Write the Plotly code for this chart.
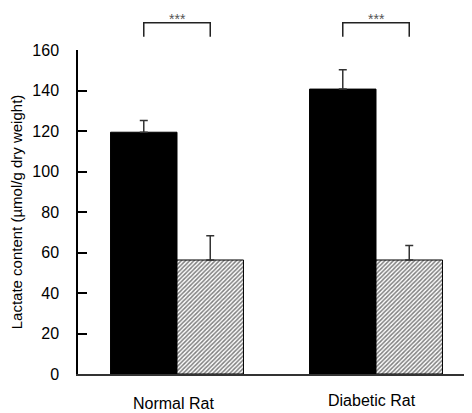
import plotly.graph_objects as go

categories = ["Normal Rat", "Diabetic Rat"]
control_vals = [119.4, 140.7]
control_err = [5.8, 9.6]
treated_vals = [56.3, 56.3]
treated_err = [12.0, 7.2]
stars = ["***", "***"]
yticks = [0, 20, 40, 60, 80, 100, 120, 140, 160]

xpos = list(range(len(categories)))
FONT = "Liberation Sans, Arial, Helvetica, sans-serif"

fig = go.Figure()
fig.add_trace(go.Bar(
    x=xpos, y=control_vals, name="control",
    marker=dict(color="black", line=dict(color="black", width=1)),
    error_y=dict(type="data", array=control_err, arrayminus=[0, 0], symmetric=False,
                 color="#333333", thickness=1.5, width=4),
))
fig.add_trace(go.Bar(
    x=xpos, y=treated_vals, name="treated",
    marker=dict(color="white", line=dict(color="black", width=1),
                pattern=dict(shape="/", fgcolor="black", bgcolor="white", size=3, solidity=0.5)),
    error_y=dict(type="data", array=treated_err, arrayminus=[0, 0], symmetric=False,
                 color="#333333", thickness=1.5, width=4),
))

bar_w = 0.334
shapes = []
annotations = []
for i, (c, s) in enumerate(zip(categories, stars)):
    x0 = xpos[i] - bar_w / 2
    x1 = xpos[i] + bar_w / 2
    shapes.append(dict(type="path", xref="x", yref="paper",
                       path=f"M {x0},1.041 L {x0},1.084 L {x1},1.084 L {x1},1.041",
                       line=dict(color="#222222", width=1.5)))
    annotations.append(dict(x=xpos[i], y=1.126, xref="x", yref="paper", text=s,
                            showarrow=False, font=dict(size=14, color="#555555", family=FONT),
                            xanchor="center", yanchor="top"))
    annotations.append(dict(x=xpos[i] - 0.02, y=0, xref="x", yref="paper", text=c,
                            showarrow=False, font=dict(size=16, color="black", family=FONT),
                            xanchor="center", yanchor="middle", yshift=-29 + (3 if i == 1 else 0)))

# page body has an 8px margin, so the figure is offset by 8px in the window
fig.update_layout(
    width=464, height=405,
    margin=dict(l=70, r=0, t=42, b=39),
    paper_bgcolor="white", plot_bgcolor="white",
    barmode="group", bargap=0.332, bargroupgap=0,
    showlegend=False,
    shapes=shapes, annotations=annotations,
    font=dict(family=FONT, color="black"),
)
fig.update_xaxes(range=[-0.4975, 1.4824], showticklabels=False, ticks="",
                 showline=True, linecolor="#333333", linewidth=1.5, showgrid=False,
                 zeroline=False, fixedrange=True)
fig.update_yaxes(range=[0, 160], tickvals=yticks, ticks="inside", ticklen=9, tickwidth=1.5,
                 tickcolor="black", showline=True, linecolor="black", linewidth=1.5,
                 showgrid=False, zeroline=False, tickfont=dict(size=16, family=FONT),
                 ticklabelstandoff=14,
                 title=dict(text="Lactate content (µmol/g dry weight)", font=dict(size=15, family=FONT),
                            standoff=6))

fig.write_html("out.html")
